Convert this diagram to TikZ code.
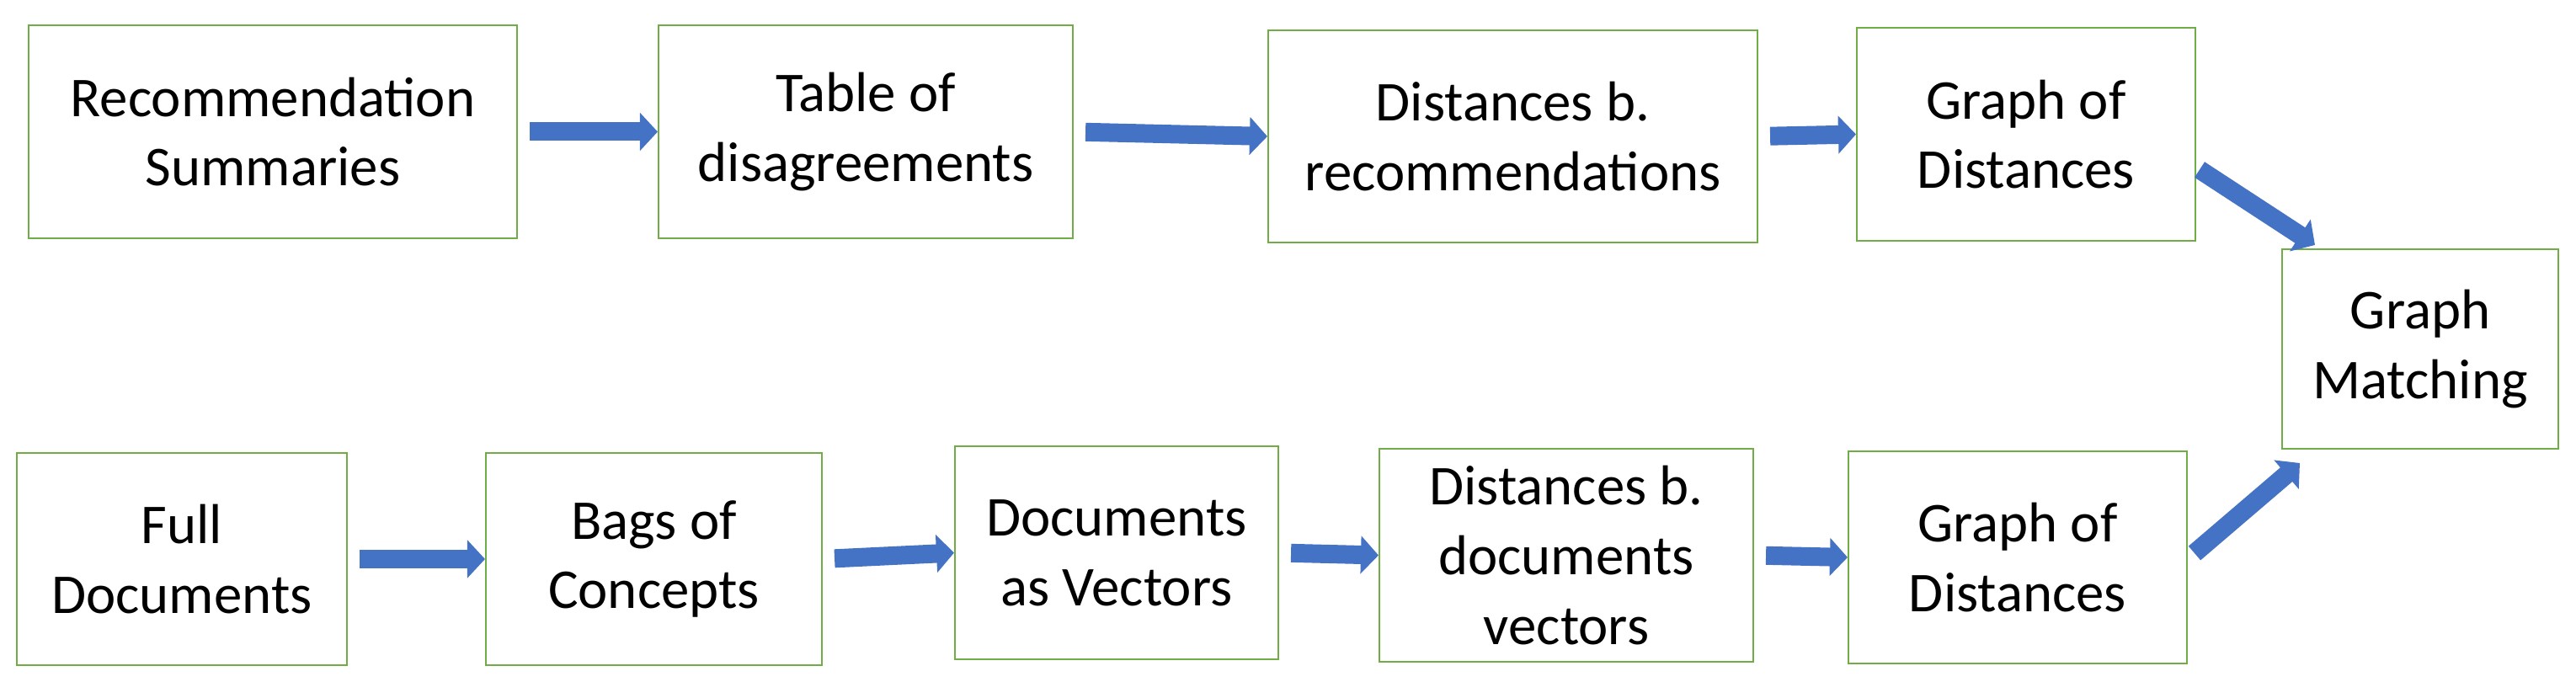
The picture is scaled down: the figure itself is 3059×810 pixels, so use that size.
\documentclass[tikz,border=0pt]{standalone}
\usepackage{fontspec}
\setmainfont{Carlito}
\usetikzlibrary{arrows.meta,calc}
\definecolor{bgreen}{HTML}{70AD47}
\definecolor{ablue}{HTML}{4472C4}
\begin{document}
\begin{tikzpicture}[x=0.01cm,y=-0.01cm,
  box/.style={draw=bgreen,line width=0.02cm,align=center,inner sep=0pt,
    font=\fontsize{19}{23.5}\selectfont},
  arr/.style={draw=ablue,line width=0.22cm,-{Triangle[length=0.21cm,width=0.44cm]},shorten <=4pt}]
\useasboundingbox (0,0) rectangle (3059,810);
\newcommand{\bx}[6]{\node[box,minimum width=#4*0.01cm,minimum height=#5*0.01cm] (#1) at (#2,#3) {#6};}
\bx{a1}{324}{156.5}{580}{253}{Recommendation\\Summaries}
\bx{a2}{1028}{156.5}{492}{253}{Table of\\disagreements}
\bx{a3}{1796.5}{162}{581}{252}{Distances b.\\recommendations}
\bx{a4}{2406}{159.5}{402}{253}{Graph of\\Distances}
\bx{gm}{2874}{414.5}{328}{237}{Graph\\Matching}
\bx{b1}{216}{664}{392}{252}{Full\\Documents}
\bx{b2}{776.5}{664}{399}{252}{Bags of\\Concepts}
\bx{b3}{1326}{656.5}{384}{253}{Documents\\as Vectors}
\bx{b4}{1860}{659.5}{444}{253}{Distances b.\\documents\\vectors}
\bx{b5}{2396}{662}{402}{252}{Graph of\\Distances}
\draw[arr] (a1.east) -- (a2.west);
\draw[arr] (a2.east) -- (a3.west);
\draw[arr] (a3.east) -- (a4.west);
\draw[arr] (b1.east) -- (b2.west);
\draw[arr] (b2.east) -- (b3.west);
\draw[arr] (b3.east) -- (b4.west);
\draw[arr] (b4.east) -- (b5.west);
\coordinate (s1) at ($(a4.east)+(4,42)$);
\coordinate (e1) at ($(gm.north west)+(40,-4)$);
\coordinate (s2) at ($(b5.east)+(8,-5)$);
\coordinate (e2) at ($(gm.south west)+(22,16)$);
\draw[arr,shorten <=0pt] (s1) -- (e1);
\draw[arr,shorten <=0pt] (s2) -- (e2);
\end{tikzpicture}
\end{document}
